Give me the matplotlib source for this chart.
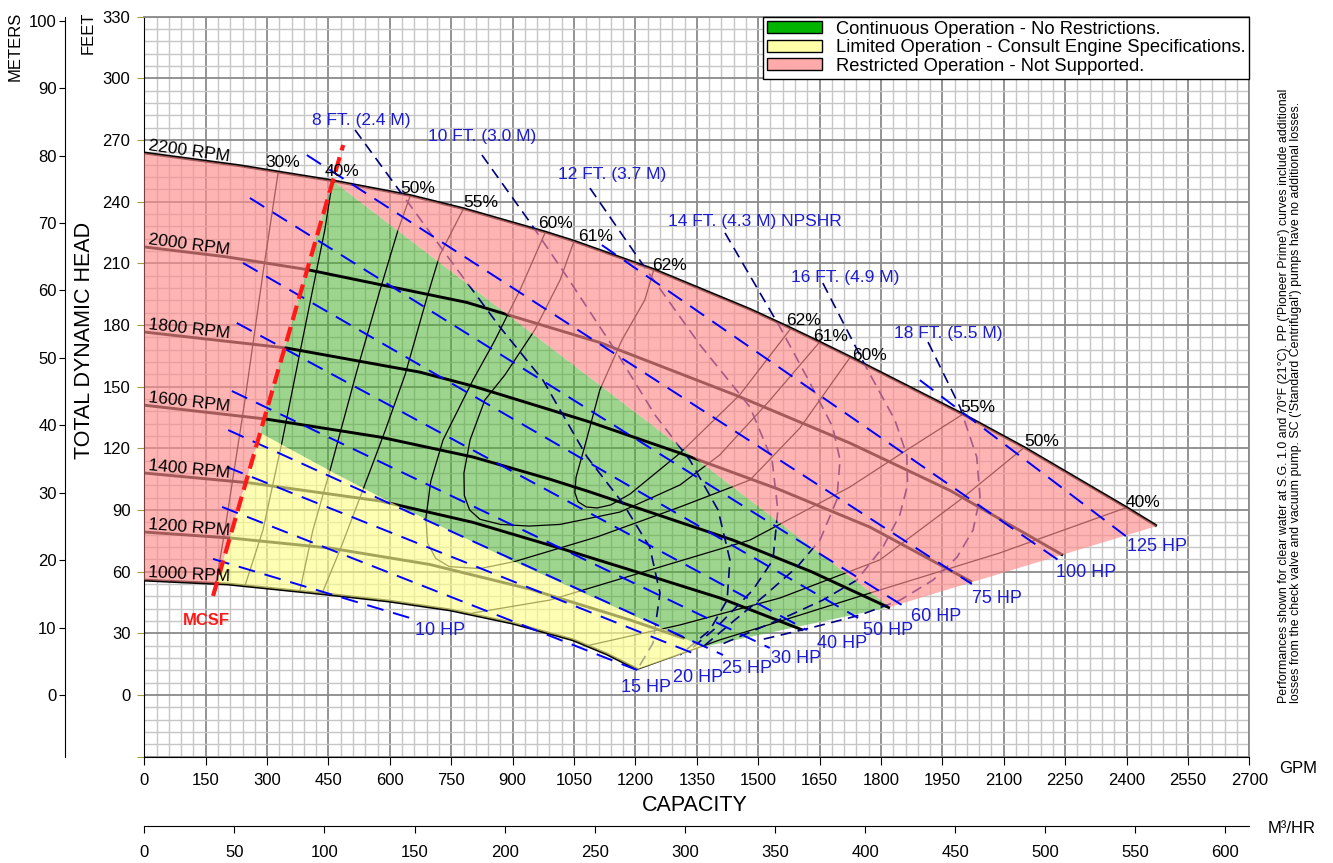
import numpy as np
import matplotlib.pyplot as plt
from matplotlib.patches import Patch, Polygon

plt.rcParams['font.family'] = ['Liberation Sans', 'DejaVu Sans']

# ---- speed curves (capacity GPM, head ft) ----
q_2200 = [0, 230, 460, 650, 780, 980, 1050, 1245, 1480, 1580, 1650, 1725, 2000, 2150, 2400, 2474]
h_2200 = [263.7, 257.6, 250.2, 243.0, 236.6, 225.2, 220.8, 207.0, 187.6, 178.4, 171.7, 164.4, 136.6, 120.4, 91.2, 82.2]
q_2000 = [0, 200, 397, 788, 1113, 1450, 1725, 1969, 2245]
h_2000 = [218.0, 213.2, 207.0, 191.0, 171.5, 145.5, 122.5, 99.5, 68.0]
q_1800 = [0, 348, 673, 803, 1089, 1309, 1550, 1773, 2022]
h_1800 = [176.6, 168.8, 157.1, 150.3, 132.8, 117.7, 100.1, 81.7, 55.0]
q_1600 = [0, 296, 576, 803, 991, 1089, 1250, 1438, 1630, 1822]
h_1600 = [141.0, 134.3, 125.5, 115.8, 105.0, 98.8, 88.0, 75.4, 60.0, 42.3]
q_1400 = [0, 258, 576, 803, 1023, 1250, 1407, 1609]
h_1400 = [108.0, 103.2, 94.4, 84.0, 71.0, 57.0, 47.2, 31.6]
q_1200 = [0, 210, 454, 698, 943, 1187, 1320]
h_1200 = [79.3, 76.4, 71.5, 63.5, 51.5, 36.5, 27.5]
q_1000 = [0, 204, 449, 598, 747, 899, 1048, 1130, 1205]
h_1000 = [55.9, 54.0, 49.0, 45.7, 41.4, 35.0, 26.8, 20.0, 12.5]
rpm_names = ['2200 RPM', '2000 RPM', '1800 RPM', '1600 RPM', '1400 RPM', '1200 RPM', '1000 RPM']
rpm_rot = [-8, -7.5, -6.5, -6.5, -5.5, -4.5, -3]

# ---- efficiency contours ----
eff_30_q = [327, 290, 246, 197, 175]
eff_30_h = [254.1, 205.3, 143.5, 80.3, 54.3]
eff_40_q = [460, 441, 380, 336, 290, 246]
eff_40_h = [250.2, 226.2, 166.4, 122.6, 80.3, 53.2]
eff_40r_q = [1205, 1406, 1602, 1773, 2090, 2400]
eff_40r_h = [12.5, 26.8, 38.9, 49.6, 69.1, 91.2]
eff_50_q = [650, 620, 576, 520, 454, 412, 380]
eff_50_h = [243.0, 226.2, 197.0, 158.1, 109.5, 80.3, 50.6]
eff_50r_q = [1082, 1309, 1553, 1797, 1993, 2150]
eff_50r_h = [24.0, 34.1, 47.2, 65.7, 94.9, 120.4]
eff_55_q = [780, 722, 691, 637, 589, 534, 478, 434]
eff_55_h = [236.6, 214.1, 193.6, 155.7, 128.9, 99.7, 70.5, 49.3]
eff_55r_q = [791, 991, 1235, 1480, 1724, 1863, 2000]
eff_55r_h = [39.5, 46.2, 60.8, 75.4, 101.2, 119.2, 136.6]
eff_60_q = [980, 918, 857, 803, 730, 700, 688, 692, 712, 745, 820, 906, 1106, 1309, 1480, 1602, 1725]
eff_60_h = [225.2, 197.0, 172.7, 153.2, 124.1, 104.0, 86.0, 74.0, 66.5, 62.5, 61.5, 65.0, 76.9, 91.5, 104.6, 129.9, 164.4]
eff_61_q = [1050, 1016, 954, 881, 832, 796, 781, 782, 795, 820, 870, 940, 1016, 1162, 1309, 1406, 1529, 1650]
eff_61_h = [220.8, 201.9, 177.6, 155.7, 143.5, 124.1, 108.0, 97.0, 90.0, 85.5, 83.0, 82.2, 83.0, 89.0, 102.2, 116.8, 143.5, 171.7]
eff_62_q = [1245, 1223, 1167, 1113, 1077, 1055, 1052, 1060, 1080, 1106, 1140, 1187, 1309, 1455, 1580]
eff_62_h = [207.0, 192.2, 172.7, 148.4, 121.6, 106.0, 98.5, 94.0, 91.5, 91.0, 92.5, 97.8, 117.7, 146.0, 178.4]
eff_text = ['30%', '40%', '50%', '55%', '60%', '61%', '62%', '62%', '61%', '60%', '55%', '50%', '40%']
eff_text_q = [339, 482, 669, 821, 1005, 1103, 1284, 1611, 1677, 1773, 2037, 2193, 2440]
eff_text_h = [259.3, 254.9, 246.6, 239.4, 229.6, 223.3, 209.2, 182.4, 174.2, 165.4, 140.1, 123.1, 93.9]

# ---- NPSHR curves ----
npsh8_q = [515, 617, 742, 869, 974, 1082, 1169, 1235, 1260, 1243, 1204]
npsh8_h = [274.9, 247.1, 213.1, 179.0, 153.2, 115.8, 93.4, 72.0, 49.6, 25.3, 12.2]
npsh10_q = [825, 942, 1033, 1155, 1248, 1333, 1402, 1431, 1424, 1382, 1309]
npsh10_h = [262.7, 230.1, 203.4, 166.4, 136.2, 114.3, 90.0, 65.7, 46.2, 31.6, 19.5]
npsh12_q = [1089, 1224, 1358, 1480, 1534, 1548, 1536, 1487, 1399, 1333]
npsh12_h = [246.6, 207.7, 170.3, 140.1, 114.3, 90.0, 65.7, 51.1, 33.1, 21.9]
npsh14_q = [1419, 1553, 1619, 1682, 1700, 1692, 1651, 1595, 1517, 1443, 1370]
npsh14_h = [224.8, 179.0, 154.7, 130.4, 114.3, 94.9, 75.4, 62.3, 48.6, 36.5, 24.3]
npsh16_q = [1658, 1761, 1834, 1863, 1865, 1846, 1805, 1741, 1658, 1578, 1492, 1406]
npsh16_h = [200.4, 160.5, 133.8, 116.8, 102.2, 87.6, 72.0, 55.9, 46.2, 38.9, 31.6, 24.3]
npsh18_q = [1915, 1993, 2034, 2042, 2025, 1986, 1927, 1847, 1749, 1627, 1505]
npsh18_h = [171.7, 140.1, 115.8, 96.3, 80.3, 67.1, 55.9, 46.2, 38.9, 32.6, 26.8]
npsh_text = ['8 FT. (2.4 M)', '10 FT. (3.0 M)', '12 FT. (3.7 M)',
             '14 FT. (4.3 M) NPSHR', '16 FT. (4.9 M)', '18 FT. (5.5 M)']
npsh_text_q = [529, 825, 1143, 1492, 1712, 1964]
npsh_text_h = [279.7, 271.5, 253.0, 230.6, 202.9, 176.1]

# ---- horsepower lines ----
hp_text = ['10 HP', '15 HP', '20 HP', '25 HP', '30 HP', '40 HP', '50 HP', '60 HP', '75 HP', '100 HP', '125 HP']
hp_q0 = [168, 190, 202, 205, 214, 226, 241, 258, 397, 1118, 1895]
hp_h0 = [66.2, 91.5, 110.9, 128.9, 147.9, 181.0, 210.2, 241.8, 262.7, 218.9, 153.2]
hp_q1 = [666, 1203, 1340, 1414, 1528, 1619, 1744, 1863, 2022, 2244, 2401]
hp_h1 = [36.5, 12.2, 20.4, 19.5, 22.9, 31.6, 37.5, 42.3, 54.0, 64.2, 76.9]
hp_text_q = [722, 1225, 1353, 1472, 1592, 1705, 1817, 1935, 2083, 2301, 2474]
hp_text_h = [31.6, 3.9, 8.3, 13.1, 18.0, 25.3, 31.6, 38.2, 47.2, 59.8, 72.5]

# ---- minimum continuous stable flow, region limits ----
mcsf_q = [168, 486]
mcsf_h = [48.2, 267.6]
limit_q = [283, 454, 576, 894, 1365]      # limited / continuous border
limit_h = [127.5, 109.0, 96.3, 65.7, 23.4]
edge_q = [1205, 1365, 1822, 2474]         # lower right edge of the map
edge_h = [12.5, 23.4, 42.8, 82.2]

fig = plt.figure(figsize=(13.33, 8.63), dpi=100)
ax = fig.add_axes([144.3 / 1333, 1 - 756.7 / 863, 1105 / 1333, 740 / 863])
ax.set_xlim(0, 2700)
ax.set_ylim(-30, 330)
ax.set_axisbelow(True)

ax.set_xticks(np.arange(0, 2701, 150))
ax.set_xticks(np.arange(0, 2701, 30), minor=True)
ax.set_yticks(np.arange(-30, 331, 30))
ax.set_yticks(np.arange(-30, 331, 6), minor=True)
ax.set_yticklabels([''] + [str(v) for v in range(0, 331, 30)])
ax.grid(which='minor', color='#c6c6c6', lw=1.0)
ax.grid(which='major', color='#8a8a8a', lw=1.3)
ax.tick_params(which='minor', length=0)
ax.tick_params(axis='y', which='major', length=5, color='#a0a040', labelsize=12, pad=5)
ax.tick_params(axis='x', which='major', length=6, labelsize=12, pad=6)
for s in ['top', 'right']:
    ax.spines[s].set_color('#8a8a8a')
    ax.spines[s].set_linewidth(1.3)

# intersection of MCSF with the 1000 RPM curve
g = np.linspace(mcsf_q[0], 300, 3000)
diff = np.interp(g, mcsf_q, mcsf_h) - np.interp(g, q_1000, h_1000)
q_int = g[np.argmin(np.abs(diff))]
h_int = float(np.interp(q_int, q_1000, h_1000))

q22 = np.array(q_2200); h22 = np.array(h_2200)
q10 = np.array(q_1000); h10 = np.array(h_1000)
left = q22 <= 460
bot = q10 < q_int

pink_left = np.vstack([
    np.column_stack([q22[left], h22[left]]),
    [[q_int, h_int]],
    np.column_stack([q10[bot][::-1], h10[bot][::-1]])])
pink_right = np.vstack([
    np.column_stack([q22[q22 >= 460], h22[q22 >= 460]]),
    [[edge_q[2], edge_h[2]]]])
green = np.vstack([
    [[460, 250.2], [edge_q[2], edge_h[2]]],
    np.column_stack([limit_q[::-1], limit_h[::-1]])])
yellow = np.vstack([
    np.column_stack([limit_q, limit_h]),
    [[edge_q[0], edge_h[0]]],
    np.column_stack([q10[~bot][::-1], h10[~bot][::-1]]),
    [[q_int, h_int]]])

ax.add_patch(Polygon(green, closed=True, fc=(0.3, 0.7, 0.2), alpha=0.55, ec='none', zorder=1))

# speed curves
rpm_q = [q_2200, q_2000, q_1800, q_1600, q_1400, q_1200, q_1000]
rpm_h = [h_2200, h_2000, h_1800, h_1600, h_1400, h_1200, h_1000]
for qq, hh, name, rot in zip(rpm_q, rpm_h, rpm_names, rpm_rot):
    ax.plot(qq, hh, color='black', lw=2.1, zorder=2, solid_capstyle='butt')
    ax.text(8, hh[0] + 1.5, name, fontsize=12.5, rotation=rot, rotation_mode='anchor',
            ha='left', va='baseline', zorder=6)

# efficiency contours
for qq, hh in [(eff_30_q, eff_30_h), (eff_40_q, eff_40_h), (eff_40r_q, eff_40r_h),
               (eff_50_q, eff_50_h), (eff_50r_q, eff_50r_h), (eff_55_q, eff_55_h),
               (eff_55r_q, eff_55r_h), (eff_60_q, eff_60_h), (eff_61_q, eff_61_h),
               (eff_62_q, eff_62_h)]:
    ax.plot(qq, hh, color='black', lw=0.9, zorder=2)
for t, qq, hh in zip(eff_text, eff_text_q, eff_text_h):
    ax.text(qq, hh, t, fontsize=12.5, ha='center', va='center', zorder=6)

# NPSHR curves
for qq, hh in [(npsh8_q, npsh8_h), (npsh10_q, npsh10_h), (npsh12_q, npsh12_h),
               (npsh14_q, npsh14_h), (npsh16_q, npsh16_h), (npsh18_q, npsh18_h)]:
    ax.plot(qq, hh, color='#000080', lw=1.2, dashes=(6.5, 3.9), zorder=2)
for t, qq, hh in zip(npsh_text, npsh_text_q, npsh_text_h):
    ax.text(qq, hh, t, fontsize=12.5, color='#1c1cd0', ha='center', va='center', zorder=6)

# translucent operating regions over the curves
ax.add_patch(Polygon(pink_left, closed=True, fc=(1.0, 0.55, 0.55), alpha=0.65, ec='none', zorder=3))
ax.add_patch(Polygon(pink_right, closed=True, fc=(1.0, 0.55, 0.55), alpha=0.65, ec='none', zorder=3))
ax.add_patch(Polygon(yellow, closed=True, fc=(1.0, 1.0, 0.55), alpha=0.65, ec='none', zorder=3))

# horsepower lines
for i, t in enumerate(hp_text):
    ax.plot([hp_q0[i], hp_q1[i]], [hp_h0[i], hp_h1[i]], color='#0000ff', lw=1.4,
            dashes=(8.7, 5.1), zorder=4)
    ax.text(hp_text_q[i], hp_text_h[i], t, fontsize=13, color='#1c1cd0',
            ha='center', va='center', zorder=6)

ax.plot(mcsf_q, mcsf_h, color='#ff1a1a', lw=3, dashes=(3.6, 1.7), zorder=5)
ax.text(151, 36.5, 'MCSF', fontsize=12, fontweight='bold', color='#ff1a1a',
        ha='center', va='center', zorder=6)

# secondary scales
secy = ax.secondary_yaxis(-0.0718, functions=(lambda f: f / 3.28084, lambda m: m * 3.28084))
secy.set_yticks(np.arange(0, 101, 10))
secy.tick_params(length=4.5, labelsize=12, pad=1.5)
secx = ax.secondary_xaxis(-0.0936, functions=(lambda q: q * 0.2271247, lambda m: m / 0.2271247))
secx.set_xticks(np.arange(0, 601, 50))
secx.tick_params(length=5, labelsize=12, pad=9)

legend = ax.legend(
    handles=[Patch(fc='#00b400', ec='black'), Patch(fc='#ffffa8', ec='black'),
             Patch(fc='#ffaaaa', ec='black')],
    labels=['Continuous Operation - No Restrictions.',
            'Limited Operation - Consult Engine Specifications.',
            'Restricted Operation - Not Supported.'],
    loc='upper right', bbox_to_anchor=(1, 1), borderaxespad=0, fontsize=13.2,
    fancybox=False, edgecolor='black', framealpha=1, handlelength=3.0,
    handleheight=0.65, handletextpad=0.75, labelspacing=0.08, borderpad=0.22)
legend.set_zorder(10)
legend.get_frame().set_linewidth(1.0)


def px(x, y):
    return x / 1333, 1 - y / 863


fig.text(*px(15, 46), 'METERS', rotation=90, fontsize=12, ha='center', va='center')
fig.text(*px(88, 33), 'FEET', rotation=90, fontsize=12, ha='center', va='center')
fig.text(*px(84, 340), 'TOTAL DYNAMIC HEAD', rotation=90, fontsize=15.5, ha='center', va='center')
fig.text(*px(695, 805), 'CAPACITY', fontsize=15.5, ha='center', va='center')
fig.text(*px(1298, 768), 'GPM', fontsize=12, ha='center', va='center')
fig.text(*px(1292, 828), 'M³/HR', fontsize=12, ha='center', va='center')
fig.text(*px(1290, 396),
         "Performances shown for clear water at S.G. 1.0 and 70°F (21°C). PP ('Pioneer Prime') curves include additional\n"
         "losses from the check valve and vacuum pump. SC ('Standard Centrifugal') pumps have no additional losses.",
         rotation=90, fontsize=8.9, ha='center', va='center', multialignment='left',
         linespacing=1.1)

fig.savefig('out.png', dpi=100)
